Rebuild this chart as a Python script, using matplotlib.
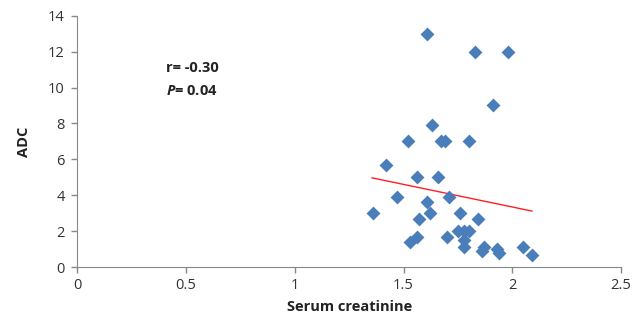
import matplotlib
matplotlib.use("Agg")
import matplotlib.pyplot as plt

# Serum creatinine vs ADC values
creatinine = [1.36, 1.42, 1.47, 1.52, 1.53, 1.56, 1.56, 1.57, 1.61, 1.61,
              1.62, 1.63, 1.66, 1.67, 1.69, 1.70, 1.71, 1.75, 1.76, 1.78,
              1.78, 1.78, 1.80, 1.80, 1.83, 1.84, 1.86, 1.87, 1.91, 1.93,
              1.94, 1.98, 2.05, 2.09]
adc = [3.0, 5.7, 3.9, 7.0, 1.4, 1.7, 5.0, 2.7, 13.0, 3.6,
       3.0, 7.9, 5.0, 7.0, 7.0, 1.7, 3.9, 2.0, 3.0, 1.5,
       1.1, 2.0, 7.0, 2.0, 12.0, 2.7, 0.9, 1.1, 9.0, 1.0,
       0.8, 12.0, 1.1, 0.7]

# trend line end points
trend_x = [1.355, 2.09]
trend_y = [4.97, 3.12]

plt.rcParams['font.family'] = ['Open Sans', 'DejaVu Sans']
plt.rcParams['mathtext.fontset'] = 'custom'
plt.rcParams['mathtext.it'] = 'Open Sans:italic:bold'

fig = plt.figure(figsize=(6.43, 3.21), dpi=100)
ax = fig.add_axes([0.12, 0.168, 0.846, 0.783])

ax.scatter(creatinine, adc, marker='D', s=50, color='#4A7EBB', zorder=3, linewidths=0)
ax.plot(trend_x, trend_y, color='#FF2020', lw=1.0, zorder=2)

ax.set_xlim(0, 2.5)
ax.set_ylim(0, 14)
ax.set_xticks([0, 0.5, 1, 1.5, 2, 2.5])
ax.set_xticklabels(['0', '0.5', '1', '1.5', '2', '2.5'])
ax.set_yticks(range(0, 15, 2))

for side in ['top', 'right']:
    ax.spines[side].set_visible(False)
for side in ['left', 'bottom']:
    ax.spines[side].set_color('#888888')
ax.tick_params(axis='both', colors='#888888', labelcolor='#333333', labelsize=10.5,
               length=4, width=1)
ax.tick_params(axis='x', pad=4)
ax.tick_params(axis='y', pad=5)

ax.set_xlabel('Serum creatinine', fontsize=10.5, fontweight='bold', color='#222222', labelpad=5)
ax.set_ylabel('ADC', fontsize=10.5, fontweight='bold', color='#222222', labelpad=12)

ax.text(0.41, 10.85, 'r= -0.30', fontsize=10.5, fontweight='bold', color='#222222')
ax.text(0.41, 9.6, '$\\mathit{P}$= 0.04', fontsize=10.5, fontweight='bold', color='#222222')

fig.savefig('out.png', dpi=100)
